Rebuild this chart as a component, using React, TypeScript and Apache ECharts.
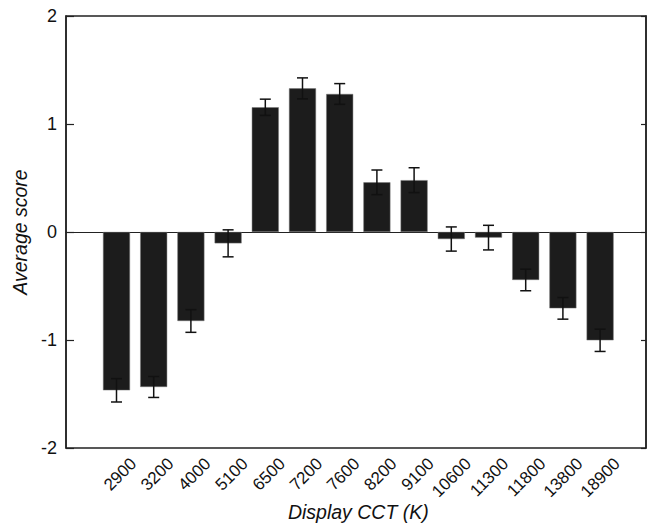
import React, { useEffect, useRef } from "react";
import * as echarts from "echarts";

const categories = ["2900", "3200", "4000", "5100", "6500", "7200", "7600", "8200", "9100", "10600", "11300", "11800", "13800", "18900"];
const scores = [-1.466, -1.435, -0.824, -0.105, 1.155, 1.33, 1.278, 0.46, 0.48, -0.065, -0.052, -0.444, -0.707, -1.003];
const errors = [0.108, 0.097, 0.105, 0.125, 0.075, 0.097, 0.096, 0.114, 0.115, 0.112, 0.114, 0.1, 0.1, 0.103];
const yTicks = [-2, -1, 0, 1, 2];

const FONT = "'Liberation Sans', Arial, sans-serif";

export default function App() {
  const ref = useRef<HTMLDivElement>(null);
  useEffect(() => {
    if (!ref.current) return;
    const chart = echarts.init(ref.current, null, { renderer: "svg" });
    const errData = categories.map((c, i) => [i, scores[i] - errors[i], scores[i] + errors[i]]);
    chart.setOption({
      animation: false,
      backgroundColor: "#fff",
      grid: [
        { left: 66, right: 5, top: 16, bottom: 78, show: true, borderColor: "#222", borderWidth: 1.5, backgroundColor: "transparent", containLabel: false, outerBoundsMode: "none" },
        { left: 97.9, right: 32.3, top: 16, bottom: 78, containLabel: false, outerBoundsMode: "none" },
        { left: 114.9, right: 15.3, top: 16, bottom: 78, containLabel: false, outerBoundsMode: "none" },
      ],
      xAxis: [
        {
          gridIndex: 0, type: "value", min: 0, max: 1,
          axisLine: { show: true, onZero: true, lineStyle: { color: "#222", width: 1.2 } },
          axisTick: { show: false }, axisLabel: { show: false }, splitLine: { show: false },
        },
        {
          gridIndex: 1, type: "category", data: categories, position: "bottom",
          axisLine: { show: false, onZero: false }, axisTick: { show: false },
          axisLabel: { show: false },
          name: "Display CCT (K)", nameLocation: "middle", nameGap: 54,
          nameTextStyle: { fontSize: 19.5, fontStyle: "italic", color: "#111", fontFamily: FONT },
        },
        {
          gridIndex: 2, type: "category", data: categories, position: "bottom",
          axisLine: { show: false, onZero: false }, axisTick: { show: false },
          axisLabel: { rotate: 45, margin: 13, fontSize: 17, color: "#111", fontFamily: FONT, interval: 0 },
        },
      ],
      yAxis: [
        {
          gridIndex: 0, type: "value", min: yTicks[0], max: yTicks[yTicks.length - 1], interval: 1, position: "left",
          axisLine: { show: true, onZero: false, lineStyle: { color: "#222", width: 1.5 } },
          axisTick: { show: true, inside: true, length: 8, lineStyle: { color: "#222", width: 1.2 } },
          axisLabel: { fontSize: 18, color: "#111", fontFamily: FONT, margin: 9 },
          splitLine: { show: false },
          name: "Average score", nameLocation: "middle", nameGap: 28,
          nameTextStyle: { fontSize: 19.5, fontStyle: "italic", color: "#111", fontFamily: FONT },
        },
        {
          gridIndex: 0, type: "value", min: yTicks[0], max: yTicks[yTicks.length - 1], interval: 1, position: "right",
          axisLine: { show: true, onZero: false, lineStyle: { color: "#222", width: 1.5 } },
          axisTick: { show: true, inside: true, length: 5, lineStyle: { color: "#222", width: 1.2 } },
          axisLabel: { show: false }, splitLine: { show: false },
        },
        { gridIndex: 1, type: "value", min: -2, max: 2, show: false },
        { gridIndex: 2, type: "value", min: -2, max: 2, show: false },
      ],
      series: [
        {
          type: "bar", xAxisIndex: 1, yAxisIndex: 2, data: scores, barWidth: 27,
          itemStyle: { color: "#1c1c1c", borderColor: "#777", borderWidth: 0.5 },
          z: 2,
        },
        {
          type: "custom", xAxisIndex: 1, yAxisIndex: 2, data: errData, z: 3,
          renderItem: (params: any, api: any) => {
            const x = api.value(0);
            const lo = api.coord([x, api.value(1)]);
            const hi = api.coord([x, api.value(2)]);
            const w = 5.5;
            const st = { stroke: "#111", lineWidth: 1.5 };
            return {
              type: "group",
              children: [
                { type: "line", shape: { x1: lo[0], y1: lo[1], x2: hi[0], y2: hi[1] }, style: st },
                { type: "line", shape: { x1: lo[0] - w, y1: lo[1], x2: lo[0] + w, y2: lo[1] }, style: st },
                { type: "line", shape: { x1: hi[0] - w, y1: hi[1], x2: hi[0] + w, y2: hi[1] }, style: st },
              ],
            };
          },
        },
      ],
    });
    return () => chart.dispose();
  }, []);
  return <div ref={ref} style={{ width: 651, height: 526, position: "absolute", left: 0, top: 0 }} />;
}
